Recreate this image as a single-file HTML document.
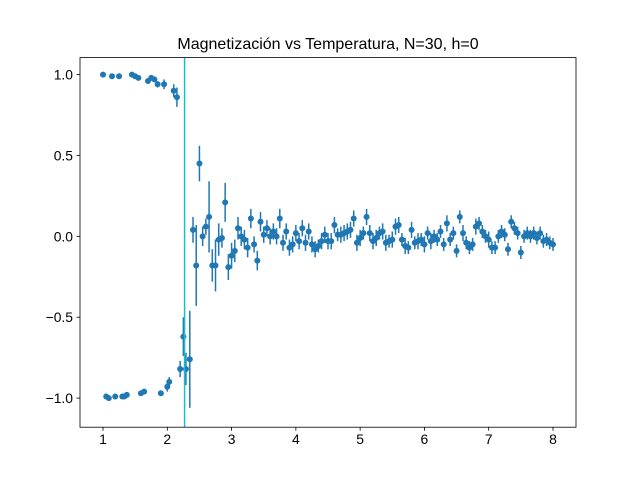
<!DOCTYPE html>
<html><head><meta charset="utf-8"><style>
body{margin:0;background:#fff}
svg{display:block;font-family:"Liberation Sans","DejaVu Sans",sans-serif}
</style></head><body>
<svg id="c" width="640" height="480"></svg>
<script>
const tempsLow = [1.00,1.05,1.09,1.14,1.19,1.25,1.30,1.33,1.37,1.45,1.50,1.55,1.59,1.64,1.70,1.75,1.80,1.85,1.90,1.95,2.00,2.03,2.10,2.15,2.20,2.25,2.29,2.35];
const magLow = [1.00,-0.99,-1.00,0.99,-0.99,0.99,-0.99,-0.99,-0.98,1.00,0.99,0.98,-0.97,-0.96,0.96,0.98,0.97,0.94,-0.97,0.94,-0.93,-0.90,0.90,0.86,-0.82,-0.62,-0.82,-0.76];
const errLow = [0.005,0.005,0.005,0.005,0.005,0.005,0.005,0.005,0.005,0.005,0.005,0.005,0.005,0.01,0.01,0.01,0.01,0.02,0.01,0.03,0.03,0.03,0.04,0.06,0.05,0.12,0.1,0.3];
const tempsHigh = [2.40,2.45,2.50,2.55,2.60,2.65,2.70,2.75,2.80,2.85,2.90,2.95,3.00,3.05,3.10,3.15,3.20,3.25,3.30,3.35,3.40,3.45,3.50,3.55,3.60,3.65,3.70,3.75,3.80,3.85,3.90,3.95,4.00,4.05,4.10,4.15,4.20,4.25,4.30,4.35,4.40,4.45,4.50,4.55,4.60,4.65,4.70,4.75,4.80,4.85,4.90,4.95,5.00,5.05,5.10,5.15,5.20,5.25,5.30,5.35,5.40,5.45,5.50,5.55,5.60,5.65,5.70,5.75,5.80,5.85,5.90,5.95,6.00,6.05,6.10,6.15,6.20,6.25,6.30,6.35,6.40,6.45,6.50,6.55,6.60,6.65,6.70,6.75,6.80,6.85,6.90,6.95,7.00,7.05,7.10,7.15,7.20,7.25,7.30,7.35,7.40,7.45,7.50,7.55,7.60,7.65,7.70,7.75,7.80,7.85,7.90,7.95,8.00];
const magHigh = [0.04,-0.18,0.45,0.00,0.06,0.12,-0.18,-0.18,-0.02,-0.01,0.21,-0.19,-0.12,-0.09,0.05,0.00,-0.02,-0.07,0.11,-0.05,-0.15,0.09,0.01,0.05,0.00,0.03,0.00,0.11,-0.04,0.03,-0.07,-0.05,0.02,-0.03,0.05,-0.04,0.03,-0.05,-0.08,-0.06,-0.03,0.01,-0.03,-0.03,0.07,0.01,0.01,0.02,0.03,0.04,0.11,-0.04,-0.01,0.02,0.12,0.02,-0.03,-0.01,0.02,0.03,-0.04,-0.03,-0.02,0.06,0.07,-0.02,-0.06,-0.07,0.04,-0.04,-0.03,-0.02,-0.05,0.02,-0.03,0.00,-0.02,0.03,-0.05,0.08,-0.02,0.02,-0.09,0.12,0.02,-0.04,-0.07,-0.05,0.06,0.08,0.03,0.00,-0.02,-0.07,-0.07,0.00,0.03,0.01,-0.08,0.09,0.05,0.02,-0.10,0.00,0.02,0.00,0.02,-0.01,0.02,-0.03,-0.02,-0.04,-0.05];
const errHigh = [0.08,0.25,0.11,0.06,0.05,0.22,0.1,0.16,0.1,0.06,0.12,0.08,0.08,0.07,0.07,0.06,0.06,0.06,0.06,0.05,0.06,0.06,0.05,0.05,0.05,0.05,0.05,0.06,0.05,0.05,0.05,0.05,0.05,0.05,0.05,0.05,0.05,0.05,0.05,0.04,0.05,0.05,0.05,0.05,0.05,0.04,0.05,0.05,0.05,0.05,0.05,0.05,0.05,0.04,0.05,0.05,0.05,0.05,0.04,0.05,0.05,0.04,0.05,0.05,0.05,0.04,0.05,0.04,0.05,0.04,0.05,0.04,0.05,0.04,0.05,0.04,0.04,0.04,0.04,0.05,0.04,0.04,0.04,0.04,0.05,0.04,0.04,0.04,0.05,0.04,0.04,0.04,0.05,0.04,0.04,0.04,0.04,0.04,0.04,0.04,0.04,0.04,0.04,0.04,0.04,0.04,0.04,0.04,0.04,0.04,0.04,0.04,0.04];
const xTicks = [1,2,3,4,5,6,7,8];
const yTicks = [1.0,0.5,0.0,-0.5,-1.0];
const yTickLabels = ["1.0","0.5","0.0","\u22120.5","\u22121.0"];
const criticalT = 2.269;

const NS="http://www.w3.org/2000/svg";
const svg=document.getElementById('c');
const L=80,R=576,T=57.6,B=427.2;
const xMin=0.642,xMax=8.358,yMin=-1.18,yMax=1.105;
const xs=v=>L+(v-xMin)/(xMax-xMin)*(R-L);
const ys=v=>B-(v-yMin)/(yMax-yMin)*(B-T);
function mk(tag,attrs,parent){const e=document.createElementNS(NS,tag);for(const k in attrs)e.setAttribute(k,attrs[k]);(parent||svg).appendChild(e);return e;}

const title=mk('text',{x:328,y:49,'text-anchor':'middle','font-size':'16px',fill:'#000'});


title.textContent='Magnetización vs Temperatura, N=30, h=0';

const gData=mk('g',{});


function drawSeries(tv,mv,ev){
  for(let i=0;i<tv.length;i++){
    const x=xs(tv[i]);
    const bar=mk('line',{x1:x,x2:x,y1:ys(mv[i]-ev[i]),y2:ys(mv[i]+ev[i]),stroke:'#1f77b4','stroke-width':1.5},gData);
    
    
    const p=mk('circle',{cx:x,cy:ys(mv[i]),r:3,fill:'#1f77b4'},gData);
    
    
  }
}
drawSeries(tempsLow,magLow,errLow);
drawSeries(tempsHigh,magHigh,errHigh);

const vl=mk('line',{x1:xs(criticalT),x2:xs(criticalT),y1:T,y2:B,stroke:'#17becf','stroke-width':1.5});



const frame=mk('rect',{x:L,y:T,width:R-L,height:B-T,fill:'none',stroke:'#000','stroke-width':0.8});



xTicks.forEach(t=>{
  const x=xs(t);
  const tk=mk('line',{x1:x,x2:x,y1:B,y2:B+3.5,stroke:'#000','stroke-width':0.8});
  
  
  const lb=mk('text',{x:x,y:B+17,'text-anchor':'middle','font-size':'13.9px'});
  
  
  lb.textContent=String(t);
});
yTicks.forEach((t,i)=>{
  const y=ys(t);
  const tk=mk('line',{x1:L-3.5,x2:L,y1:y,y2:y,stroke:'#000','stroke-width':0.8});
  
  
  const lb=mk('text',{x:L-7,y:y+5,'text-anchor':'end','font-size':'13.9px'});
  
  
  lb.textContent=yTickLabels[i];
});
</script>
</body></html>
